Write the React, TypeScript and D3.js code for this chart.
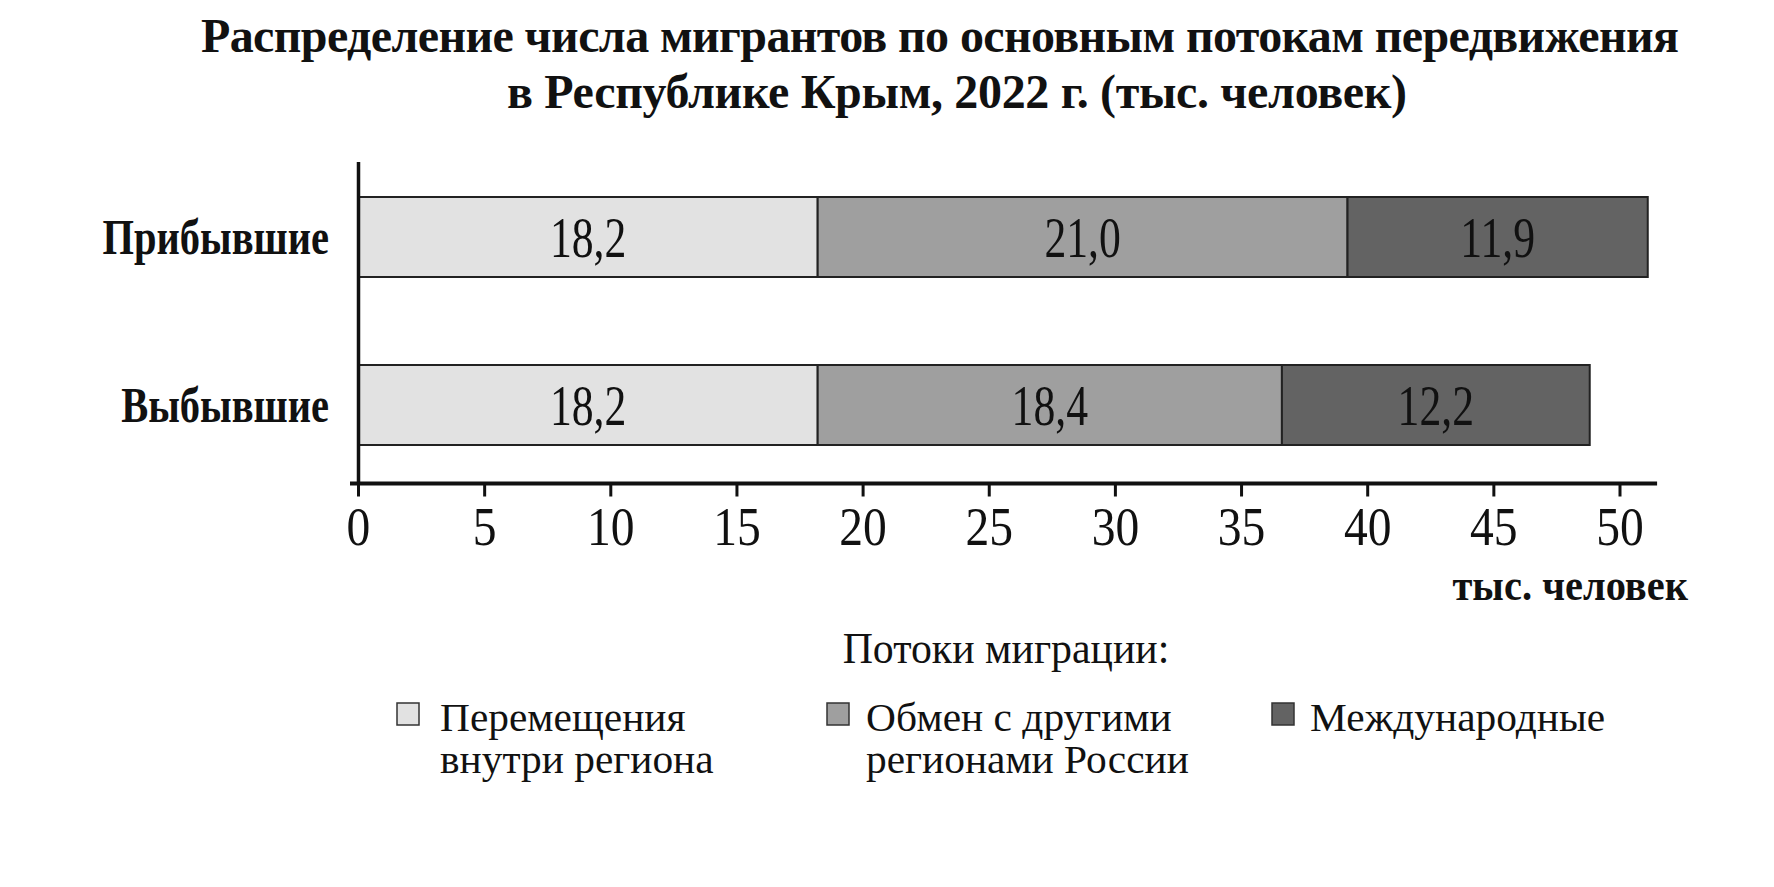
import React from "react";
import * as d3 from "d3";

const titleLines = [
  "Распределение числа мигрантов по основным потокам передвижения",
  "в Республике Крым, 2022 г. (тыс. человек)",
];
const categories = ["Прибывшие", "Выбывшие"];
const seriesKeys = ["within", "regions", "international"];
const withinRegion = [18.2, 18.2];
const otherRegions = [21.0, 18.4];
const international = [11.9, 12.2];
const tickValues = [0, 5, 10, 15, 20, 25, 30, 35, 40, 45, 50];
const axisUnit = "тыс. человек";
const legendTitle = "Потоки миграции:";
const legendLabels = [
  ["Перемещения", "внутри региона"],
  ["Обмен с другими", "регионами России"],
  ["Международные"],
];

const W = 1774;
const H = 887;
const FONT = "'Liberation Serif', 'DejaVu Serif', serif";
const colors = ["#e2e2e2", "#9f9f9f", "#636363"];

function CText(props: {
  x: number;
  y: number;
  size: number;
  sx?: number;
  anchor?: string;
  bold?: boolean;
  children: React.ReactNode;
}) {
  const { x, y, size, sx = 1, anchor = "start", bold = false, children } = props;
  return (
    <text
      transform={`translate(${x},${y}) scale(${sx},1)`}
      textAnchor={anchor}
      fontSize={size}
      fontWeight={bold ? "bold" : "normal"}
      fill="#111"
    >
      {children}
    </text>
  );
}

export default function App() {
  const rows = categories.map((c, i) => ({
    category: c,
    within: withinRegion[i],
    regions: otherRegions[i],
    international: international[i],
  }));
  const stack = d3.stack<any>().keys(seriesKeys)(rows);

  const x = d3.scaleLinear().domain([0, 50]).range([358.5, 1620]);
  const axisEnd = 51.47;
  const y = d3
    .scaleBand()
    .domain(categories)
    .range([197, 445])
    .paddingInner(88 / 168)
    .paddingOuter(0);
  const fmt = (v: number) => d3.format(".1f")(v).replace(".", ",");

  const axisY = 483.5;
  const legendX = [397, 827, 1272];
  const legendGap = [43, 39, 38];

  return (
    <svg
      width={W}
      height={H}
      style={{ position: "absolute", left: 0, top: 0, background: "#fff" }}
      fontFamily={FONT}
    >
      <rect x={0} y={0} width={W} height={H} fill="#fff" />
      {/* title */}
      <text
        x={201}
        y={52}
        fontSize={48}
        fontWeight="bold"
        fill="#111"
        textLength={1478}
        lengthAdjust="spacing"
      >
        {titleLines[0]}
      </text>
      <text
        x={507}
        y={108}
        fontSize={48}
        fontWeight="bold"
        fill="#111"
        textLength={900}
        lengthAdjust="spacing"
      >
        {titleLines[1]}
      </text>

      {/* bars */}
      {stack.map((layer, si) =>
        layer.map((d, i) => (
          <rect
            key={`${si}-${i}`}
            x={x(d[0])}
            y={y(categories[i])!}
            width={x(d[1]) - x(d[0])}
            height={y.bandwidth()}
            fill={colors[si]}
            stroke="#222"
            strokeWidth={2}
          />
        ))
      )}
      {stack.map((layer, si) =>
        layer.map((d, i) => (
          <CText
            key={`t-${si}-${i}`}
            x={(x(d[0]) + x(d[1])) / 2}
            y={y(categories[i])! + y.bandwidth() / 2 + 20}
            anchor="middle"
            size={56}
            sx={0.78}
          >
            {fmt(d[1] - d[0])}
          </CText>
        ))
      )}

      {/* category labels */}
      {categories.map((c) => (
        <CText
          key={c}
          x={329}
          y={y(c)! + y.bandwidth() / 2 + 17}
          anchor="end"
          size={50}
          sx={0.81}
          bold
        >
          {c}
        </CText>
      ))}

      {/* axes */}
      <line x1={x(0)} x2={x(0)} y1={162} y2={axisY} stroke="#111" strokeWidth={3.5} />
      <line x1={350} x2={x(axisEnd)} y1={axisY} y2={axisY} stroke="#111" strokeWidth={4} />
      {tickValues.map((t) => (
        <g key={t}>
          <line x1={x(t)} x2={x(t)} y1={axisY} y2={axisY + 13} stroke="#111" strokeWidth={3} />
          <CText x={x(t)} y={545} anchor="middle" size={54} sx={0.88}>
            {t}
          </CText>
        </g>
      ))}
      <CText x={1688} y={600} anchor="end" size={44} sx={0.92} bold>
        {axisUnit}
      </CText>

      {/* legend */}
      <CText x={1006} y={663} anchor="middle" size={45} sx={0.93}>
        {legendTitle}
      </CText>
      {legendLabels.map((lines, i) => (
        <g key={i}>
          <rect
            x={legendX[i]}
            y={703}
            width={22}
            height={22}
            fill={colors[i]}
            stroke="#333"
            strokeWidth={1.5}
          />
          {lines.map((ln, j) => (
            <CText
              key={j}
              x={legendX[i] + legendGap[i]}
              y={731 + j * 42}
              size={41}
              sx={1.01}
            >
              {ln}
            </CText>
          ))}
        </g>
      ))}
    </svg>
  );
}
